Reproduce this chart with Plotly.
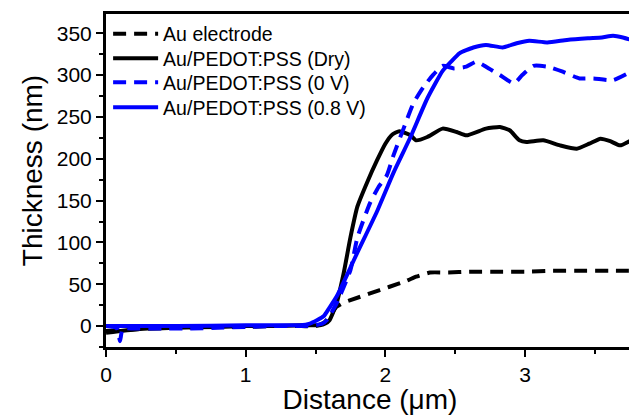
import plotly.graph_objects as go

# ---- data ----
names = ["Au electrode", "Au/PEDOT:PSS (Dry)", "Au/PEDOT:PSS (0 V)", "Au/PEDOT:PSS (0.8 V)"]

x_au = [0, 0.1, 0.2, 0.3, 0.5, 0.8, 1.0, 1.2, 1.4, 1.5, 1.56, 1.6, 1.65, 1.7, 1.75, 1.89,
        2.03, 2.15, 2.22, 2.32, 2.45, 2.6, 2.8, 3.0, 3.2, 3.4, 3.6, 3.78]
y_au = [-6, -5, -4, -3, -2, -1, -1, 0, 0, 0, 4, 11, 23, 28, 31, 39,
        47, 54, 59, 64, 64, 65, 65, 65, 66, 66, 66, 66]

x_dry = [0, 0.05, 0.1, 0.2, 0.3, 0.5, 0.8, 1.0, 1.2, 1.4, 1.5, 1.53, 1.57, 1.6, 1.65, 1.7,
         1.75, 1.8, 1.87, 1.94, 2.0, 2.05, 2.10, 2.18, 2.22, 2.30, 2.41, 2.51, 2.58, 2.72, 2.82,
         2.89, 2.96, 3.01, 3.13, 3.25, 3.37, 3.46, 3.54, 3.61, 3.68, 3.78]
y_dry = [-8, -7, -6, -4, -3, -2, -1, 0, 0, 1, 1, 1, 3, 7, 27, 62,
         106, 143, 172, 198, 218, 229, 233, 228, 222, 226, 236, 232, 228, 236, 238,
         234, 222, 220, 222, 216, 212, 218, 224, 221, 216, 224]

x_0v = [0, 0.05, 0.08, 0.1, 0.12, 0.2, 0.4, 0.6, 0.8, 1.0, 1.2, 1.4, 1.5, 1.55, 1.58, 1.65,
        1.75, 1.80, 1.89, 1.95, 2.01, 2.06, 2.13, 2.20, 2.27, 2.34, 2.41, 2.49, 2.58, 2.65,
        2.72, 2.82, 2.92, 2.98, 3.06, 3.16, 3.27, 3.39, 3.49, 3.63, 3.78]
y_0v = [0, -1, -3, -18, -3, -3, -3, -3, -2, -1, 0, 0, 1, 3, 7, 27,
        67, 106, 147, 166, 180, 205, 236, 266, 285, 300, 311, 308, 310, 316,
        310, 300, 290, 300, 311, 310, 304, 296, 296, 294, 306]

x_08v = [0, 0.2, 0.5, 1.0, 1.2, 1.39, 1.46, 1.51, 1.56, 1.60, 1.65, 1.70, 1.75, 1.80, 1.94,
         2.06, 2.18, 2.30, 2.41, 2.47, 2.53, 2.63, 2.72, 2.84, 2.94, 3.03, 3.16, 3.30, 3.45,
         3.55, 3.63, 3.70, 3.78]
y_08v = [0, 0, 0, 1, 1, 1, 3, 7, 12, 22, 35, 52, 70, 88, 137,
         184, 226, 272, 305, 316, 326, 333, 336, 333, 338, 341, 339, 342, 344,
         345, 347, 345, 341]

x_title = "Distance (\u03bcm)"
y_title = "Thickness (nm)"

FONT = "Liberation Sans, Arial, sans-serif"

series = [
    (x_au, y_au, "black", "13px,8px"),
    (x_dry, y_dry, "black", "solid"),
    (x_0v, y_0v, "#0000FF", "13px,8px"),
    (x_08v, y_08v, "#0000FF", "solid"),
]

# legend rows (paper y of row centres)
legend_rows = [0.940, 0.866, 0.794, 0.719]

fig = go.Figure()
legend_layouts = {}
for i, (xs, ys, col, dash) in enumerate(series):
    lname = "legend" if i == 0 else f"legend{i + 1}"
    fig.add_trace(go.Scatter(
        x=xs, y=ys, mode="lines", name=names[i], legend=lname, showlegend=True,
        line=dict(color=col, width=4, dash=dash, shape="spline", smoothing=0.5),
    ))
    legend_layouts[lname] = dict(
        x=0.004, y=legend_rows[i], xanchor="left", yanchor="middle",
        bgcolor="rgba(0,0,0,0)", font=dict(family=FONT, size=19.5, color="black"),
        itemwidth=45, visible=True,
    )

axis_common = dict(
    showgrid=False, zeroline=False, showline=True, linecolor="black", linewidth=3,
    mirror=True, ticks="outside", ticklen=7, tickwidth=2, tickcolor="black",
    tickfont=dict(family=FONT, size=21, color="black"), automargin=False,
)

fig.update_xaxes(
    range=[0, 3.78], dtick=1, tick0=0,
    minor=dict(dtick=0.5, ticks="outside", ticklen=4, tickwidth=2, tickcolor="black"),
    title=dict(text=x_title, font=dict(family=FONT, size=28, color="black")),
    **axis_common,
)
fig.update_yaxes(
    range=[-25, 373], dtick=50, tick0=0,
    minor=dict(dtick=25, ticks="outside", ticklen=4, tickwidth=2, tickcolor="black"),
    **axis_common,
)

# y-axis title placed as an annotation to match the reference position
fig.add_annotation(
    text=y_title, xref="paper", yref="paper", x=0, y=0.528, xanchor="center",
    yanchor="middle", xshift=-74, textangle=-90, showarrow=False,
    font=dict(family=FONT, size=28, color="black"),
)

# the page body has an 8px margin, so the figure is made 8px smaller on each side
fig.update_layout(
    width=629, height=407,
    margin=dict(l=98, r=3, t=6, b=68),
    plot_bgcolor="white", paper_bgcolor="white",
    showlegend=True,
    **legend_layouts,
)

fig.write_html("out.html")
